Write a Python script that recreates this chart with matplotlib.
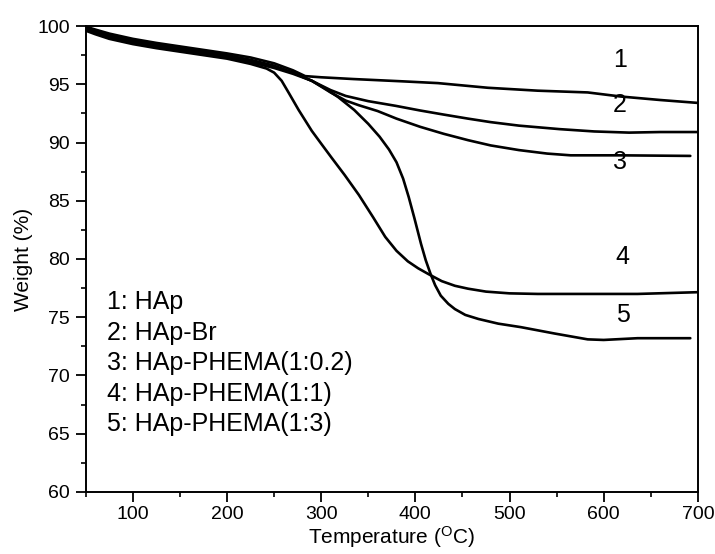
import matplotlib
matplotlib.use("Agg")
import matplotlib.pyplot as plt
from matplotlib.ticker import MultipleLocator

plt.rcParams['font.family'] = ['Liberation Sans', 'DejaVu Sans']

# Curve 1: HAp
t1 = [50, 60, 75, 100, 125, 150, 175, 200, 225, 250, 270, 283, 300, 334, 387, 424, 477, 530, 583, 618, 660, 700]
w1 = [99.95, 99.7, 99.35, 98.9, 98.55, 98.25, 97.95, 97.65, 97.3, 96.8, 96.2, 95.7, 95.6, 95.45, 95.25, 95.1, 94.7, 94.45, 94.3, 93.95, 93.65, 93.4]
# Curve 2: HAp-Br
t2 = [50, 60, 75, 100, 125, 150, 175, 200, 225, 250, 270, 290, 310, 326, 350, 379, 405, 430, 456, 480, 510, 553, 590, 627, 660, 700]
w2 = [99.85, 99.6, 99.2, 98.75, 98.4, 98.1, 97.8, 97.5, 97.1, 96.6, 96.0, 95.3, 94.5, 94.0, 93.55, 93.15, 92.75, 92.4, 92.05, 91.75, 91.45, 91.15, 90.95, 90.85, 90.9, 90.9]
# Curve 3: HAp-PHEMA(1:0.2)
t3 = [50, 60, 75, 100, 125, 150, 175, 200, 225, 250, 270, 290, 310, 326, 340, 360, 380, 405, 430, 456, 480, 510, 540, 565, 617, 692]
w3 = [99.8, 99.5, 99.1, 98.65, 98.3, 98.0, 97.7, 97.4, 97.0, 96.5, 96.0, 95.3, 94.3, 93.6, 93.2, 92.7, 92.05, 91.35, 90.75, 90.2, 89.75, 89.35, 89.05, 88.9, 88.9, 88.85]
# Curve 4: HAp-PHEMA(1:1)
t4 = [50, 60, 75, 100, 125, 150, 175, 200, 225, 242, 250, 258, 266, 276, 290, 300, 311, 325, 340, 355, 368, 380, 392, 403, 414, 428, 442, 456, 475, 500, 530, 565, 636, 700]
w4 = [99.6, 99.3, 98.9, 98.45, 98.1, 97.8, 97.5, 97.2, 96.75, 96.35, 96.0, 95.3, 94.2, 92.8, 91.0, 89.9, 88.7, 87.2, 85.5, 83.6, 81.9, 80.7, 79.8, 79.2, 78.7, 78.1, 77.7, 77.45, 77.2, 77.05, 77.0, 77.0, 77.0, 77.15]
# Curve 5: HAp-PHEMA(1:3)
t5 = [50, 60, 75, 100, 125, 150, 175, 200, 225, 250, 270, 290, 305, 318, 335, 350, 362, 372, 380, 387, 393, 399, 406, 411, 416, 421, 427, 435, 442, 453, 467, 488, 512, 548, 583, 600, 636, 692]
w5 = [99.7, 99.4, 99.0, 98.55, 98.2, 97.9, 97.6, 97.3, 96.9, 96.4, 95.9, 95.3, 94.6, 93.9, 92.8, 91.6, 90.5, 89.4, 88.3, 86.9, 85.3, 83.5, 81.3, 79.9, 78.75, 77.75, 76.85, 76.15, 75.7, 75.2, 74.85, 74.45, 74.15, 73.6, 73.1, 73.05, 73.2, 73.2]

curve_labels = ["1", "2", "3", "4", "5"]
label_x = [617, 617, 617, 620, 620]
label_y = [97.05, 93.2, 88.3, 80.15, 75.2]

legend_lines = ["1: HAp", "2: HAp-Br", "3: HAp-PHEMA(1:0.2)", "4: HAp-PHEMA(1:1)", "5: HAp-PHEMA(1:3)"]

fig = plt.figure(figsize=(7.15, 5.54), dpi=100)
ax = fig.add_axes([0.120, 0.112, 0.856, 0.841])

for t, w in [(t1, w1), (t2, w2), (t3, w3), (t4, w4), (t5, w5)]:
    ax.plot(t, w, color='black', lw=1.9, solid_joinstyle='round', solid_capstyle='round')

for s, x, y in zip(curve_labels, label_x, label_y):
    ax.text(x, y, s, fontsize=18, ha='center', va='center')

for i, s in enumerate(legend_lines):
    ax.text(73, 76.3 - i * 2.62, s, fontsize=18, ha='left', va='center')

ax.set_xlim(50, 700)
ax.set_ylim(60, 100)
ax.xaxis.set_major_locator(MultipleLocator(100))
ax.xaxis.set_minor_locator(MultipleLocator(50))
ax.yaxis.set_major_locator(MultipleLocator(5))
ax.yaxis.set_minor_locator(MultipleLocator(2.5))
ax.tick_params(which='major', direction='out', length=7, width=1.3, labelsize=14, top=False, right=False)
ax.tick_params(axis='x', which='major', pad=3)
ax.tick_params(axis='y', which='major', pad=4.5)
ax.tick_params(which='minor', direction='out', length=3.5, width=1.2, top=False, right=False)
for sp in ax.spines.values():
    sp.set_linewidth(1.4)

ax.set_xlabel("Temperature ($\\mathregular{^{O}}$C)", fontsize=15, labelpad=1)
ax.set_ylabel("Weight (%)", fontsize=15, labelpad=3)

fig.savefig("out.png", dpi=100)
